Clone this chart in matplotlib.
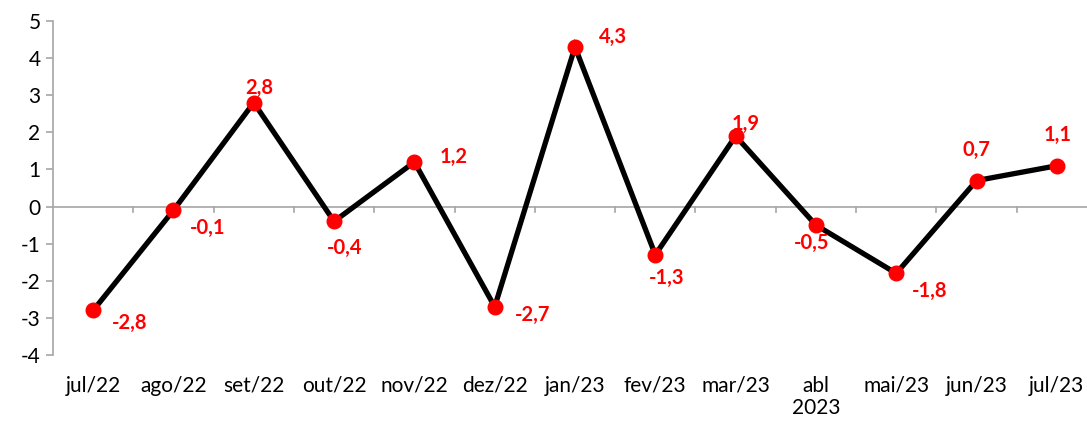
import matplotlib
matplotlib.use("Agg")
import matplotlib.pyplot as plt
import numpy as np

categories = ["jul/22", "ago/22", "set/22", "out/22", "nov/22", "dez/22", "jan/23",
              "fev/23", "mar/23", "abl\n2023", "mai/23", "jun/23", "jul/23"]
values = [-2.8, -0.1, 2.8, -0.4, 1.2, -2.7, 4.3, -1.3, 1.9, -0.5, -1.8, 0.7, 1.1]
labels = ["-2,8", "-0,1", "2,8", "-0,4", "1,2", "-2,7", "4,3", "-1,3", "1,9", "-0,5", "-1,8", "0,7", "1,1"]
yticks = list(range(-4, 6))

# layout: data-label offsets from the marker centre, in pixels (right, down)
label_offsets_px = [(36, 13), (34, 18), (5, -15), (11, 27), (39, -5), (38, 8), (38, -10),
                    (11, 23), (10, -12), (-4, 18), (33, 18), (0, -31), (1, -31)]

plt.rcParams['font.family'] = ['Lato', 'DejaVu Sans']

W, H = 1087, 423
DPI = 100
fig = plt.figure(figsize=(W / DPI, H / DPI), dpi=DPI)
left, right, top, bottom = 53, 1097, 21, 355
ax = fig.add_axes([left / W, 1 - bottom / H, (right - left) / W, (bottom - top) / H])

x = np.arange(len(values))
ax.plot(x, values, color="black", lw=3.8, zorder=2, solid_joinstyle="miter")
ax.plot(x, values, "o", color="#FF0000", ms=10.5, zorder=3)

px2pt = 72 / DPI
for xi, v, lab, (dx, dy) in zip(x, values, labels, label_offsets_px):
    ax.annotate(lab, (xi, v), xytext=(dx * px2pt, -dy * px2pt), textcoords="offset points",
                ha="center", va="center", color="#FF0000", fontsize=14.5, fontweight="bold",
                zorder=4)

ax.set_xlim(-0.5, len(values) - 0.5)
ax.set_ylim(-4, 5)
ax.set_yticks(yticks)
ax.set_yticklabels([str(t) for t in yticks])

gray = "#A6A6A6"
for s in ["top", "right", "bottom"]:
    ax.spines[s].set_visible(False)
ax.spines["left"].set_color(gray)
ax.spines["left"].set_linewidth(1.2)
ax.axhline(0, color=gray, lw=1.2, zorder=1)
# category boundary tick marks on the zero line
for b in np.arange(0.5, len(values) - 0.5, 1):
    ax.plot([b, b], [0, -0.15], color=gray, lw=1.2, zorder=1, clip_on=False)

ax.tick_params(axis="y", colors=gray, length=5, width=1.2, labelsize=15, labelcolor="black", pad=4)
ax.set_xticks(x)
ax.set_xticklabels(categories)
ax.tick_params(axis="x", length=0, labelsize=15, pad=15)
for t in ax.get_xticklabels():
    t.set_verticalalignment("top")
    t.set_linespacing(1.15)

fig.savefig("out.png", dpi=DPI)
